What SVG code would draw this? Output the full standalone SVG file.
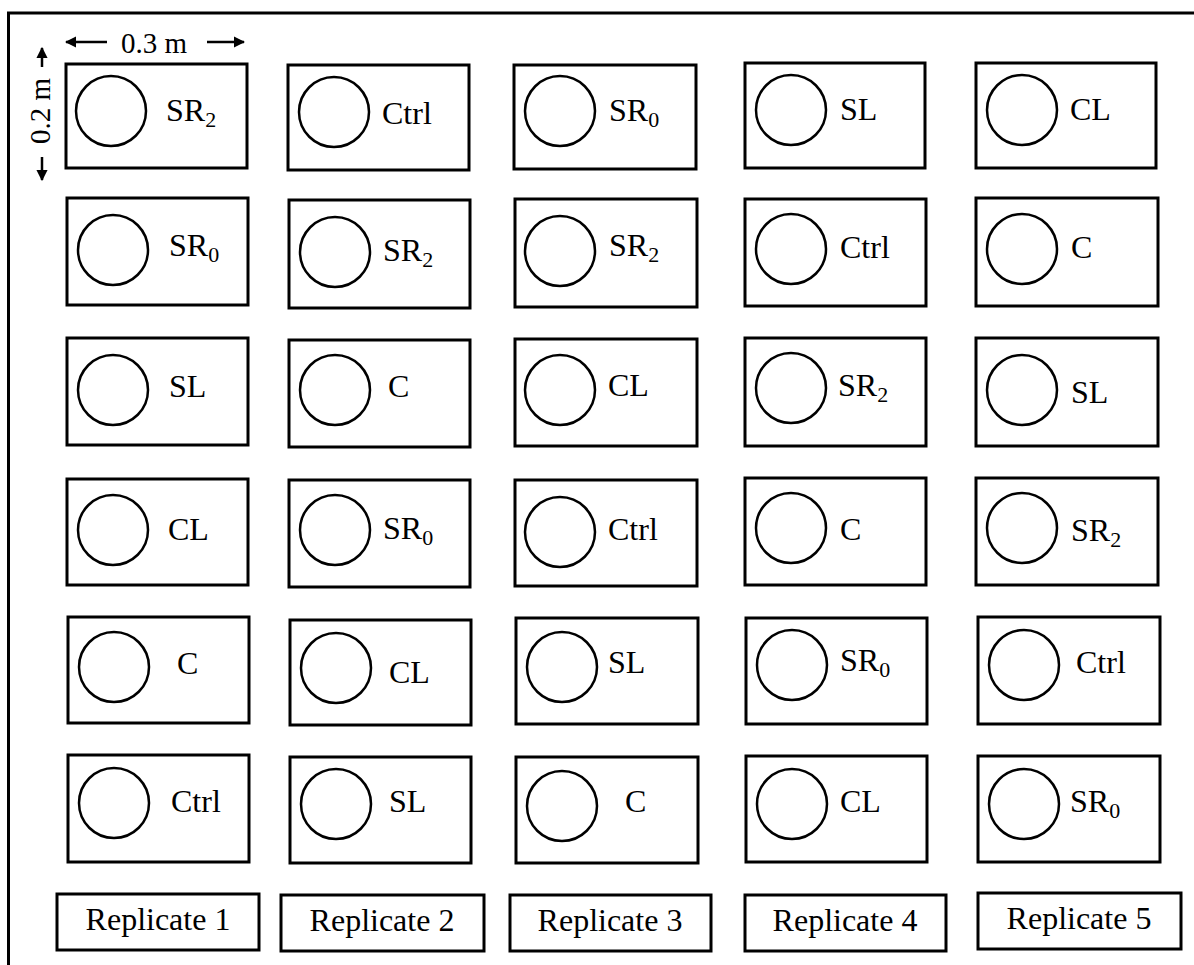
<svg xmlns="http://www.w3.org/2000/svg" width="1194" height="965" viewBox="0 0 1194 965" font-family="'Liberation Serif', 'DejaVu Serif', serif">
<defs>
<style>
.plot rect{fill:#fff;stroke:#000;stroke-width:3}
.plot circle{fill:none;stroke:#000;stroke-width:2.5}
text{font-family:'Liberation Serif','DejaVu Serif',serif;fill:#000}
.lbl{font-size:32px}
.sub{font-size:22px}
.rep rect{fill:#fff;stroke:#000;stroke-width:3}
.rep text{font-size:32px;text-anchor:middle}
.dim{font-size:29px}
.arr{stroke:#000;stroke-width:2.5;fill:none}
</style>
<marker id="ah" viewBox="0 0 10 10" refX="9" refY="5" markerWidth="4.5" markerHeight="4.5" orient="auto" markerUnits="strokeWidth">
<path d="M0,0 L10,5 L0,10 z" fill="#000"/>
</marker>
</defs>
<rect x="0" y="0" width="1194" height="965" fill="#fff"/>
<polyline points="8.5,965 8.5,13 1194,13" fill="none" stroke="#000" stroke-width="3"/>

<g id="dimensions">
<line class="arr" x1="107" y1="42" x2="66" y2="42" marker-end="url(#ah)"/>
<line class="arr" x1="207" y1="42" x2="244" y2="42" marker-end="url(#ah)"/>
<text class="dim" x="154" y="53" text-anchor="middle">0.3 m</text>
<line class="arr" x1="42" y1="67" x2="42" y2="48" marker-end="url(#ah)"/>
<line class="arr" x1="42" y1="157" x2="42" y2="180" marker-end="url(#ah)"/>
<text class="dim" transform="translate(50,111) rotate(-90)" text-anchor="middle">0.2 m</text>
</g>

<g id="r1c1" class="plot"><rect x="66" y="64" width="181" height="104"/><circle cx="111" cy="111" r="35"/><text class="lbl" x="166" y="121">SR<tspan class="sub" dy="6">2</tspan></text></g>
<g id="r1c2" class="plot"><rect x="288" y="65" width="181" height="105"/><circle cx="334" cy="112" r="35"/><text class="lbl" x="382" y="124">Ctrl</text></g>
<g id="r1c3" class="plot"><rect x="514" y="65" width="182" height="104"/><circle cx="560" cy="111" r="35"/><text class="lbl" x="609" y="121">SR<tspan class="sub" dy="6">0</tspan></text></g>
<g id="r1c4" class="plot"><rect x="745" y="63" width="180" height="105"/><circle cx="791" cy="110" r="35"/><text class="lbl" x="840" y="120">SL</text></g>
<g id="r1c5" class="plot"><rect x="976" y="63" width="180" height="105"/><circle cx="1022" cy="110" r="35"/><text class="lbl" x="1070" y="120">CL</text></g>

<g id="r2c1" class="plot"><rect x="67" y="198" width="181" height="107"/><circle cx="113" cy="250" r="35"/><text class="lbl" x="169" y="256">SR<tspan class="sub" dy="6">0</tspan></text></g>
<g id="r2c2" class="plot"><rect x="289" y="200" width="181" height="108"/><circle cx="335" cy="252" r="35"/><text class="lbl" x="383" y="261">SR<tspan class="sub" dy="6">2</tspan></text></g>
<g id="r2c3" class="plot"><rect x="515" y="199" width="182" height="108"/><circle cx="560" cy="251" r="35"/><text class="lbl" x="609" y="256">SR<tspan class="sub" dy="6">2</tspan></text></g>
<g id="r2c4" class="plot"><rect x="745" y="199" width="181" height="107"/><circle cx="791" cy="249" r="35"/><text class="lbl" x="840" y="258">Ctrl</text></g>
<g id="r2c5" class="plot"><rect x="976" y="198" width="182" height="108"/><circle cx="1022" cy="249" r="35"/><text class="lbl" x="1071" y="258">C</text></g>

<g id="r3c1" class="plot"><rect x="67" y="338" width="181" height="107"/><circle cx="113" cy="390" r="35"/><text class="lbl" x="169" y="397">SL</text></g>
<g id="r3c2" class="plot"><rect x="289" y="340" width="181" height="107"/><circle cx="335" cy="390" r="35"/><text class="lbl" x="388" y="397">C</text></g>
<g id="r3c3" class="plot"><rect x="515" y="339" width="182" height="107"/><circle cx="560" cy="390" r="35"/><text class="lbl" x="608" y="396">CL</text></g>
<g id="r3c4" class="plot"><rect x="745" y="338" width="181" height="108"/><circle cx="791" cy="388" r="35"/><text class="lbl" x="838" y="396">SR<tspan class="sub" dy="6">2</tspan></text></g>
<g id="r3c5" class="plot"><rect x="976" y="338" width="182" height="108"/><circle cx="1022" cy="390" r="35"/><text class="lbl" x="1071" y="403">SL</text></g>

<g id="r4c1" class="plot"><rect x="67" y="479" width="181" height="106"/><circle cx="113" cy="530" r="35"/><text class="lbl" x="168" y="540">CL</text></g>
<g id="r4c2" class="plot"><rect x="289" y="480" width="181" height="107"/><circle cx="335" cy="530" r="35"/><text class="lbl" x="383" y="539">SR<tspan class="sub" dy="6">0</tspan></text></g>
<g id="r4c3" class="plot"><rect x="515" y="480" width="182" height="106"/><circle cx="560" cy="532" r="35"/><text class="lbl" x="608" y="540">Ctrl</text></g>
<g id="r4c4" class="plot"><rect x="745" y="478" width="181" height="107"/><circle cx="791" cy="528" r="35"/><text class="lbl" x="840" y="540">C</text></g>
<g id="r4c5" class="plot"><rect x="976" y="478" width="182" height="107"/><circle cx="1022" cy="528" r="35"/><text class="lbl" x="1071" y="541">SR<tspan class="sub" dy="6">2</tspan></text></g>

<g id="r5c1" class="plot"><rect x="68" y="617" width="181" height="106"/><circle cx="114" cy="667" r="35"/><text class="lbl" x="177" y="674">C</text></g>
<g id="r5c2" class="plot"><rect x="290" y="620" width="181" height="105"/><circle cx="336" cy="668" r="35"/><text class="lbl" x="389" y="683">CL</text></g>
<g id="r5c3" class="plot"><rect x="516" y="618" width="182" height="106"/><circle cx="562" cy="667" r="35"/><text class="lbl" x="608" y="673">SL</text></g>
<g id="r5c4" class="plot"><rect x="746" y="618" width="181" height="106"/><circle cx="792" cy="665" r="35"/><text class="lbl" x="840" y="671">SR<tspan class="sub" dy="6">0</tspan></text></g>
<g id="r5c5" class="plot"><rect x="978" y="617" width="182" height="107"/><circle cx="1024" cy="665" r="35"/><text class="lbl" x="1076" y="673">Ctrl</text></g>

<g id="r6c1" class="plot"><rect x="68" y="755" width="181" height="107"/><circle cx="114" cy="803" r="35"/><text class="lbl" x="171" y="812">Ctrl</text></g>
<g id="r6c2" class="plot"><rect x="290" y="757" width="181" height="106"/><circle cx="336" cy="804" r="35"/><text class="lbl" x="389" y="812">SL</text></g>
<g id="r6c3" class="plot"><rect x="516" y="757" width="182" height="106"/><circle cx="562" cy="806" r="35"/><text class="lbl" x="625" y="812">C</text></g>
<g id="r6c4" class="plot"><rect x="746" y="756" width="181" height="106"/><circle cx="792" cy="804" r="35"/><text class="lbl" x="840" y="812">CL</text></g>
<g id="r6c5" class="plot"><rect x="978" y="756" width="182" height="106"/><circle cx="1024" cy="804" r="35"/><text class="lbl" x="1070" y="812">SR<tspan class="sub" dy="6">0</tspan></text></g>

<g id="rep1" class="rep"><rect x="57" y="894" width="202" height="56"/><text x="158" y="930">Replicate 1</text></g>
<g id="rep2" class="rep"><rect x="281" y="895" width="203" height="56"/><text x="382" y="931">Replicate 2</text></g>
<g id="rep3" class="rep"><rect x="510" y="895" width="201" height="56"/><text x="610" y="931">Replicate 3</text></g>
<g id="rep4" class="rep"><rect x="745" y="895" width="201" height="56"/><text x="845" y="931">Replicate 4</text></g>
<g id="rep5" class="rep"><rect x="978" y="893" width="203" height="56"/><text x="1079" y="929">Replicate 5</text></g>
</svg>
